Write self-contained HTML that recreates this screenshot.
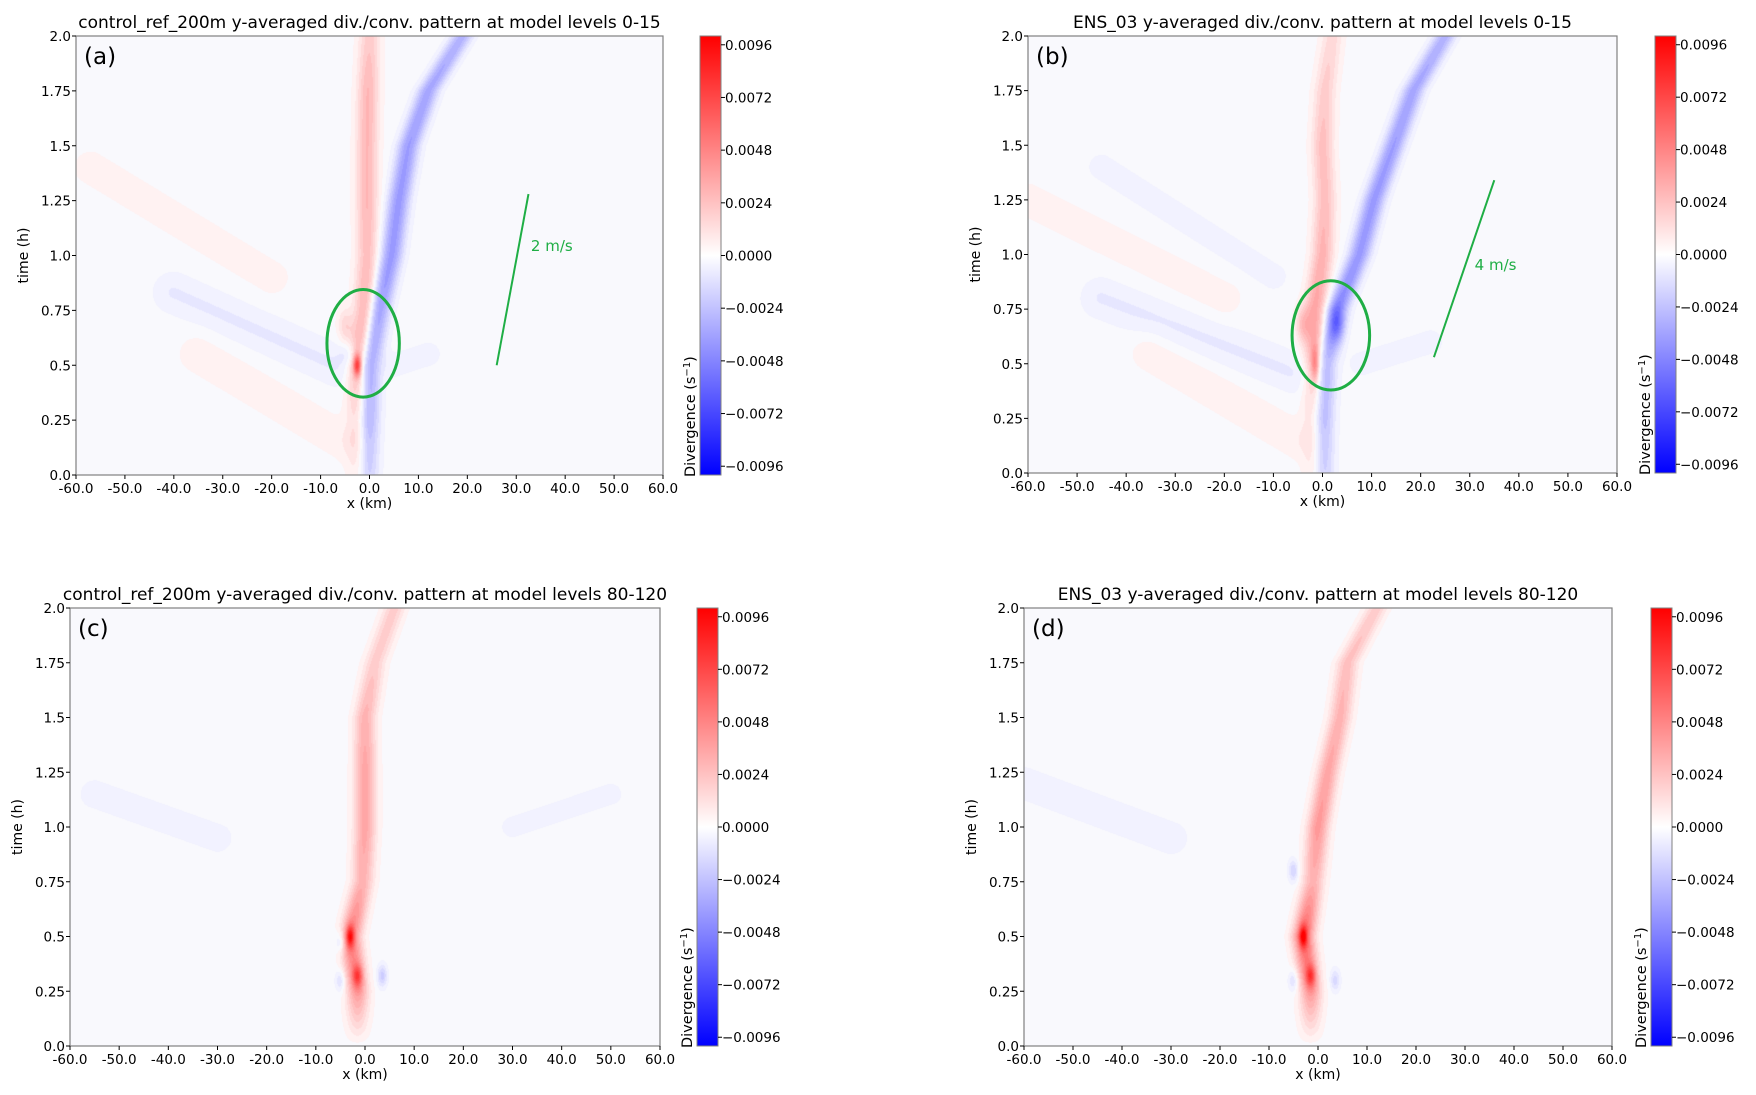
<!DOCTYPE html>
<html><head><meta charset="utf-8">
<style>
body{margin:0;background:#fff;width:1756px;height:1095px;overflow:hidden;font-family:"DejaVu Sans","Liberation Sans",sans-serif;}
#root{position:relative;width:1756px;height:1095px;}
canvas{position:absolute;}
svg{position:absolute;left:0;top:0;}
</style></head>
<body>
<div id="root">
<svg id="ov" width="1756" height="1095"></svg>
</div>
<script>
const xTicks = [-60,-50,-40,-30,-20,-10,0,10,20,30,40,50,60];
const yTicks = [0,0.25,0.5,0.75,1.0,1.25,1.5,1.75,2.0];
const yTickLabels = ["0.0","0.25","0.5","0.75","1.0","1.25","1.5","1.75","2.0"];
const cbTicks = [0.0096,0.0072,0.0048,0.0024,0,-0.0024,-0.0048,-0.0072,-0.0096];
const cbTickLabels = ["0.0096","0.0072","0.0048","0.0024","0.0000","\u22120.0024","\u22120.0048","\u22120.0072","\u22120.0096"];
const streakTimes = [0,0.25,0.5,0.75,1.0,1.25,1.5,1.75,2.0];

const aRedX = [-2,-2.2,-2.5,-1,-0.5,-0.5,-0.5,-0.3,0];
const aRedAmp = [0.0015,0.002,0.0035,0.003,0.0025,0.0028,0.0028,0.0028,0.002];
const aBlueX = [-0.5,-0.3,0,2,4.5,6,8,12,19];
const aBlueAmp = [0.0025,0.0035,0.0035,0.0038,0.004,0.004,0.0038,0.0035,0.003];
const aBlobs = [[-2.5,0.5,0.006,0.8,0.05],[-5,0.68,0.0015,1.5,0.08],[-4,0.55,-0.0012,2,0.06]];
const aBands = [[-57,1.4,-20,0.9,0.0006,3.5],[-35,0.55,-5,0.15,0.0006,4],[-40,0.83,-5,0.48,-0.0008,4],[5,0.5,12,0.55,-0.0006,2.5]];

const bRedX = [-1.5,-1.5,-1.5,-1.5,0,0.5,0,0.5,2];
const bRedAmp = [0.0015,0.002,0.0035,0.0035,0.003,0.0025,0.0025,0.002,0.0015];
const bBlueX = [0,0,0.5,3,7.5,10.5,14.5,18.5,25];
const bBlueAmp = [0.0025,0.0035,0.0035,0.0045,0.004,0.004,0.0038,0.0035,0.003];
const bBlobs = [[-1.5,0.5,0.003,0.8,0.08],[-4,0.68,0.002,1.5,0.08],[3,0.68,-0.0025,1.5,0.08]];
const bBands = [[-60,1.25,-20,0.8,0.0006,3.5],[-35,0.55,-5,0.15,0.0006,4],[-45,0.8,-5,0.45,-0.0008,4],[-45,1.4,-10,0.9,-0.0005,3],[8,0.5,22,0.6,-0.0006,2.5]];

const cRedX = [-1.5,-1.5,-3,-0.5,0,0,0,2,6];
const cRedAmp = [0,0.004,0.005,0.003,0.0035,0.0035,0.003,0.002,0.002];
const cBlueX = [0,0,0,0,0,0,0,0,0];
const cBlueAmp = [0,0,0,0,0,0,0,0,0];
const cBlobs = [[-3,0.5,0.005,0.8,0.05],[-1.5,0.32,0.004,1,0.05],[-5,0.48,-0.002,1,0.05],[3.5,0.32,-0.002,1,0.05],[-5,0.3,-0.0015,1,0.05]];
const cBands = [[-55,1.15,-30,0.95,-0.0006,3],[30,1.0,50,1.15,-0.0005,2.5]];

const dRedX = [-1.5,-1.5,-3,-1,0,2,4.5,6,12];
const dRedAmp = [0,0.004,0.006,0.003,0.004,0.0035,0.003,0.0025,0.002];
const dBlueX = [0,0,0,0,0,0,0,0,0];
const dBlueAmp = [0,0,0,0,0,0,0,0,0];
const dBlobs = [[-3,0.5,0.005,0.8,0.05],[-1.5,0.32,0.004,1,0.05],[-5,0.8,-0.0018,1,0.05],[-5,0.3,-0.0015,1,0.05],[3.5,0.3,-0.0015,1,0.05]];
const dBands = [[-60,1.2,-30,0.95,-0.0006,3.5]];

const panels = [
 {id:'a',L:76,R:663,T:36,B:475,cb:700,title:"control_ref_200m y-averaged div./conv. pattern at model levels 0-15",
  rx:aRedX,ra:aRedAmp,bx:aBlueX,ba:aBlueAmp,blobs:aBlobs,bands:aBands,
  ell:[-1.3,0.6,7.4,0.245],line:[26,0.5,32.5,1.28],lt:[33,1.02,"2 m/s"]},
 {id:'b',L:1028,R:1617,T:36,B:473,cb:1655,title:"ENS_03 y-averaged div./conv. pattern at model levels 0-15",
  rx:bRedX,ra:bRedAmp,bx:bBlueX,ba:bBlueAmp,blobs:bBlobs,bands:bBands,
  ell:[1.7,0.63,7.9,0.25],line:[22.7,0.53,35,1.34],lt:[31,0.93,"4 m/s"]},
 {id:'c',L:70,R:660,T:608,B:1046,cb:697,title:"control_ref_200m y-averaged div./conv. pattern at model levels 80-120",
  rx:cRedX,ra:cRedAmp,bx:cBlueX,ba:cBlueAmp,blobs:cBlobs,bands:cBands},
 {id:'d',L:1024,R:1612,T:608,B:1046,cb:1651,title:"ENS_03 y-averaged div./conv. pattern at model levels 80-120",
  rx:dRedX,ra:dRedAmp,bx:dBlueX,ba:dBlueAmp,blobs:dBlobs,bands:dBands}
];

function sq(a){return a*a;}
function interp(arr,t){
  const n=streakTimes.length;
  if(t<=streakTimes[0])return arr[0];
  for(let i=0;i<n-1;i++){if(t<=streakTimes[i+1]){const f=(t-streakTimes[i])/(streakTimes[i+1]-streakTimes[i]);return arr[i]+(arr[i+1]-arr[i])*f;}}
  return arr[n-1];
}
function bwr(v){
  const step=0.0005;const n=Math.round(v/step);
  if(n===0)return [249,249,253];
  let t=Math.max(-1,Math.min(1,n*step/0.01));
  if(t<0)return [255*(1+t),255*(1+t),255];
  return [255,255*(1-t),255*(1-t)];
}
const NS='http://www.w3.org/2000/svg';
const ov=document.getElementById('ov');
function el(tag,attrs,parent){const e=document.createElementNS(NS,tag);for(const k in attrs)e.setAttribute(k,attrs[k]);(parent||ov).appendChild(e);return e;}
function txt(s,attrs,parent){const e=el('text',attrs,parent);e.textContent=s;return e;}

panels.forEach(p=>{
  const W=p.R-p.L,H=p.B-p.T;
  const sx=x=>p.L+(x+60)/120*W, sy=t=>p.B-t/2*H;
  const cv=document.createElement('canvas');cv.width=W;cv.height=H;cv.style.left=p.L+'px';cv.style.top=p.T+'px';
  
  
  document.getElementById('root').insertBefore(cv,ov);
  const ctx=cv.getContext('2d');const img=ctx.createImageData(W,H);
  const kmPx=W/120,hPx=H/2;
  for(let j=0;j<H;j++){
    const t=2-(j+0.5)/hPx;
    const rx=interp(p.rx,t),ra=interp(p.ra,t),bx=interp(p.bx,t),ba=interp(p.ba,t);
    for(let i=0;i<W;i++){
      const x=(i+0.5)/kmPx-60;
      let v=ra*Math.exp(-sq((x-rx)/2.2))-ba*Math.exp(-sq((x-bx)/2.2));
      for(const b of p.blobs){v+=b[2]*Math.exp(-sq((x-b[0])/b[3])-sq((t-b[1])/b[4]));}
      for(const b of p.bands){
        const x1=b[0]*kmPx,y1=b[1]*hPx,x2=b[2]*kmPx,y2=b[3]*hPx,px=x*kmPx,py=t*hPx;
        const dx=x2-x1,dy=y2-y1,l2=dx*dx+dy*dy;let u=((px-x1)*dx+(py-y1)*dy)/l2;u=Math.max(0,Math.min(1,u));
        const d=Math.hypot(px-x1-u*dx,py-y1-u*dy)/kmPx;
        v+=b[4]*Math.exp(-sq(d/b[5]));
      }
      const c=bwr(v);const k=(j*W+i)*4;img.data[k]=c[0];img.data[k+1]=c[1];img.data[k+2]=c[2];img.data[k+3]=255;
    }
  }
  ctx.putImageData(img,0,0);
  const g=el('g',{});
  el('rect',{x:p.L,y:p.T,width:W,height:H,fill:'none',stroke:'#808080','stroke-width':1.2,},g);
  txt(p.title,{x:(p.L+p.R)/2,y:p.T-8,'text-anchor':'middle','font-size':17,fill:'#000',},g);
  txt('('+p.id+')',{x:p.L+8,y:p.T+28,'font-size':23,fill:'#000',},g);
  xTicks.forEach(x=>{
    el('line',{x1:sx(x),x2:sx(x),y1:p.B,y2:p.B+4,stroke:'#000',},g);
    txt(x.toFixed(1),{x:sx(x),y:p.B+18,'text-anchor':'middle','font-size':13.5,fill:'#000',},g);
  });
  yTicks.forEach((t,i)=>{
    el('line',{x1:p.L-4,x2:p.L,y1:sy(t),y2:sy(t),stroke:'#000',},g);
    txt(yTickLabels[i],{x:p.L-5,y:sy(t)+5,'text-anchor':'end','font-size':13.5,fill:'#000',},g);
  });
  txt('x (km)',{x:(p.L+p.R)/2,y:p.B+33,'text-anchor':'middle','font-size':14,fill:'#000',},g);
  txt('time (h)',{x:0,y:0,transform:`translate(${p.L-48},${(p.T+p.B)/2}) rotate(-90)`,'text-anchor':'middle','font-size':14,fill:'#000',},g);
  const gid='cbg'+p.id;
  const defs=el('defs',{},g);
  const lg=el('linearGradient',{id:gid,x1:0,y1:0,x2:0,y2:1},defs);
  el('stop',{offset:'0','stop-color':'#ff0000'},lg);el('stop',{offset:'0.5','stop-color':'#ffffff'},lg);el('stop',{offset:'1','stop-color':'#0000ff'},lg);
  el('rect',{x:p.cb,y:p.T,width:21,height:H,fill:`url(#${gid})`,stroke:'#808080',},g);
  const cy=v=>p.T+(0.01-v)/0.02*H;
  cbTicks.forEach((v,i)=>{
    el('line',{x1:p.cb+21,x2:p.cb+25,y1:cy(v),y2:cy(v),stroke:'#000',},g);
    txt(cbTickLabels[i],{x:p.cb+25,y:cy(v)+5,'font-size':13.5,fill:'#000',},g);
  });
  const lab=txt('',{x:0,y:0,transform:`translate(${p.cb-5},${p.B+2}) rotate(-90)`,'text-anchor':'start','font-size':14.5,fill:'#000',},g);
  lab.textContent='Divergence (s';const sup=el('tspan',{dy:-5,'font-size':10},lab);sup.textContent='\u22121';const cl=el('tspan',{dy:5},lab);cl.textContent=')';
  if(p.ell){
    el('ellipse',{cx:sx(p.ell[0]),cy:sy(p.ell[1]),rx:p.ell[2]*kmPx,ry:p.ell[3]*hPx,fill:'none',stroke:'#1fae45','stroke-width':3,},g);
    el('line',{x1:sx(p.line[0]),y1:sy(p.line[1]),x2:sx(p.line[2]),y2:sy(p.line[3]),stroke:'#1fae45','stroke-width':2,},g);
    txt(p.lt[2],{x:sx(p.lt[0]),y:sy(p.lt[1]),'font-size':15,fill:'#1fae45',},g);
  }
});
</script>
</body></html>
